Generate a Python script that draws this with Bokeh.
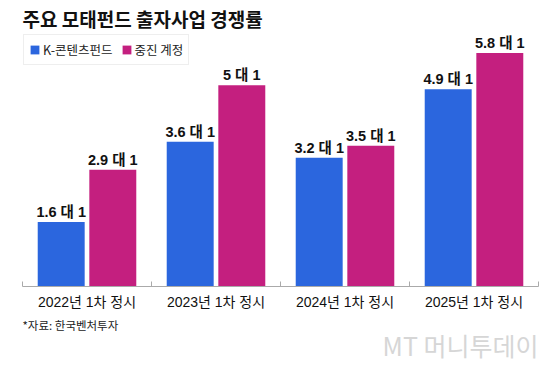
from bokeh.plotting import figure
from bokeh.models import ColumnDataSource, FixedTicker, Legend, LegendItem, Title, Range1d, LabelSet
from bokeh.core.properties import value
from bokeh.transform import dodge
from bokeh.embed import file_html
from bokeh.resources import INLINE

categories = ["2022년 1차 정시", "2023년 1차 정시", "2024년 1차 정시", "2025년 1차 정시"]
k_content = [1.6, 3.6, 3.2, 4.9]
jungjin = [2.9, 5.0, 3.5, 5.8]
series_names = ["K-콘텐츠펀드", "중진 계정"]
title_text = "주요 모태펀드 출자사업 경쟁률"
source_text = "*자료: 한국벤처투자"
watermark_text = "MT 머니투데이"

BLUE = "#2b66de"
PINK = "#c41f7f"
FONT = "'Liberation Sans', 'Noto Sans CJK KR'"
KFONT = "'Noto Sans CJK KR'"

xs = list(range(len(categories)))
src = ColumnDataSource(dict(
    x=xs,
    k=k_content,
    j=jungjin,
    k_lab=[f"{v:g} 대 1" for v in k_content],
    j_lab=[f"{v:g} 대 1" for v in jungjin],
))

p = figure(width=560, height=365, output_backend="svg", toolbar_location=None,
           x_range=Range1d(-0.5, len(categories) - 0.5), y_range=Range1d(0, 6.287),
           min_border_left=22, min_border_right=22, min_border_top=32, min_border_bottom=79)
p.outline_line_color = None
p.grid.visible = False
p.yaxis.visible = False
p.background_fill_color = "white"

p.title.text = title_text
p.title.text_font = KFONT
p.title.text_font_size = "19px"
p.title.text_font_style = "bold"
p.title.text_color = "#111111"
p.title.align = "left"
p.title.standoff = 4

bw = 0.364
r1 = p.vbar(x=dodge("x", -0.2, range=p.x_range), top="k", width=bw, source=src,
            fill_color=BLUE, line_color=None)
r2 = p.vbar(x=dodge("x", 0.2, range=p.x_range), top="j", width=bw, source=src,
            fill_color=PINK, line_color=None)

for col, lab, off in [("k", "k_lab", -0.2), ("j", "j_lab", 0.2)]:
    ls = LabelSet(x=dodge("x", off, range=p.x_range), y=col, text=lab, source=src,
                  text_align="center", text_baseline="bottom", y_offset=2,
                  text_font=value(FONT), text_font_size="14.5px", text_font_style="bold",
                  text_color="#111111")
    p.add_layout(ls)

ax = p.xaxis[0]
ax.ticker = FixedTicker(ticks=xs, minor_ticks=[i - 0.5 for i in xs] + [xs[-1] + 0.5])
ax.major_label_overrides = {i: c for i, c in zip(xs, categories)}
ax.major_tick_in = 0
ax.major_tick_out = 0
ax.minor_tick_in = 5
ax.minor_tick_out = 0
ax.minor_tick_line_color = "#aaaaaa"
ax.axis_line_color = "#aaaaaa"
ax.major_label_standoff = 7
ax.major_label_text_font = FONT
ax.major_label_text_font_size = "14px"
ax.major_label_text_color = "#111111"

legend = Legend(items=[LegendItem(label=series_names[0], renderers=[r1]),
                       LegendItem(label=series_names[1], renderers=[r2])],
                orientation="horizontal", location="top_left")
legend.margin = 1
legend.padding = 5
legend.spacing = 8
legend.glyph_width = 11
legend.glyph_height = 11
legend.label_standoff = 3
legend.label_height = 11
legend.label_text_font = KFONT
legend.label_text_font_size = "12.5px"
legend.label_text_color = "#222222"
legend.border_line_color = "#dddddd"
legend.background_fill_alpha = 1
p.add_layout(legend)

t1 = Title(text=source_text, align="left", text_font=KFONT, text_font_size="11.5px",
           text_font_style="normal", text_color="#222222", standoff=4)
p.add_layout(t1, "below")
t2 = Title(text=watermark_text, align="right", text_font=KFONT, text_font_size="25px",
           text_font_style="normal", text_color="#d6d6d6", standoff=-20)
p.add_layout(t2, "below")

open("out.html", "w").write(file_html(p, INLINE))
